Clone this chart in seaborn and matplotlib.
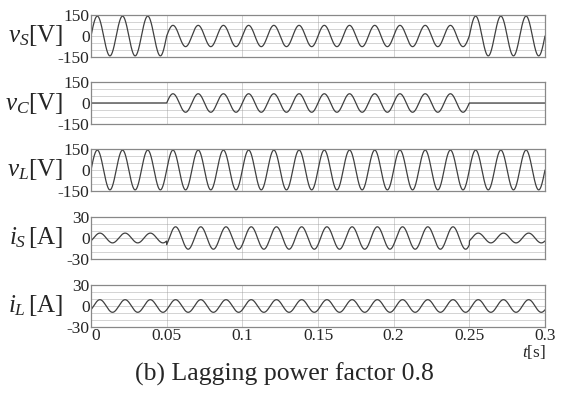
import numpy as np
import matplotlib
matplotlib.use("Agg")
import matplotlib.pyplot as plt
import seaborn as sns
import pandas as pd

# waveform parameters
freq_hz = 60.0
sag_start, sag_end = 0.05, 0.25
t_end = 0.3

# amplitudes [normal, during sag] and phase (deg) for each trace
vs_amp = [142, 76]
vc_amp = [0, 66]
vl_amp = [142, 142]
is_amp = [7, 16]
il_amp = [9, 9]
vs_phase, vc_phase, vl_phase = 0, 0, 0
is_phase, il_phase = -37, -37

panel_labels = [r"$v_S$[V]", r"$v_C$[V]", r"$v_L$[V]", r"$i_S\,$[A]", r"$i_L\,$[A]"]
panel_limits = [150, 150, 150, 30, 30]
x_ticks = [0, 0.05, 0.1, 0.15, 0.2, 0.25, 0.3]
x_tick_labels = ["0", "0.05", "0.1", "0.15", "0.2", "0.25", "0.3"]
caption = "(b) Lagging power factor 0.8"

t = np.linspace(0, t_end, 3000)
in_sag = (t >= sag_start) & (t < sag_end)


def wave(amps, phase):
    amp = np.where(in_sag, amps[1], amps[0])
    return amp * np.sin(2 * np.pi * freq_hz * t + np.deg2rad(phase))


df = pd.DataFrame({
    "t": t,
    "vS": wave(vs_amp, vs_phase),
    "vC": wave(vc_amp, vc_phase),
    "vL": wave(vl_amp, vl_phase),
    "iS": wave(is_amp, is_phase),
    "iL": wave(il_amp, il_phase),
})
cols = ["vS", "vC", "vL", "iS", "iL"]

sns.set_style("white")
plt.rcParams["font.family"] = ["Liberation Serif", "DejaVu Serif"]
plt.rcParams["mathtext.fontset"] = "custom"
plt.rcParams["mathtext.rm"] = "Liberation Serif"
plt.rcParams["mathtext.it"] = "Liberation Serif:italic"

W, H = 565, 394
fig = plt.figure(figsize=(W / 100, H / 100), dpi=100)
tops = [15, 82, 149, 217, 285]
left, right, h = 91, 545, 42

for i, col in enumerate(cols):
    ax = fig.add_axes([left / W, (H - tops[i] - h) / H, (right - left) / W, h / H])
    sns.lineplot(data=df, x="t", y=col, ax=ax, color="#404040", linewidth=0.9)
    lim = panel_limits[i]
    ax.set_xlim(0, t_end)
    ax.set_ylim(-lim, lim)
    ax.set_yticks([-lim, 0, lim])
    ax.set_yticklabels([str(-lim), "0", str(lim)], fontsize=12.5)
    for yy in np.linspace(-lim, lim, 7)[1:-1]:
        ax.axhline(yy, color="#999999", linestyle=(0, (1.2, 1.2)), linewidth=0.6, zorder=0)
    for xx in x_ticks[1:-1]:
        ax.axvline(xx, color="#999999", linestyle=(0, (1.2, 1.2)), linewidth=0.6, zorder=0)
    ax.set_xticks(x_ticks)
    if i == len(cols) - 1:
        ax.set_xticklabels(x_tick_labels, fontsize=12.5)
        ax.get_xticklabels()[0].set_horizontalalignment("left")
    else:
        ax.set_xticklabels([])
    ax.tick_params(length=0, pad=1)
    for s in ax.spines.values():
        s.set_color("#888888")
        s.set_linewidth(0.9)
    ax.set_xlabel("")
    ax.set_ylabel("")
    yc = (H - tops[i] - h / 2) / H
    fig.text(63 / W, yc, panel_labels[i], ha="right", va="center", fontsize=18)

fig.text(546 / W, (H - 352) / H, r"$t$[s]", ha="right", va="center", fontsize=12.5)
fig.text(284 / W, (H - 374) / H, caption, ha="center", va="center", fontsize=18.5)

fig.savefig("out.png", dpi=100)
